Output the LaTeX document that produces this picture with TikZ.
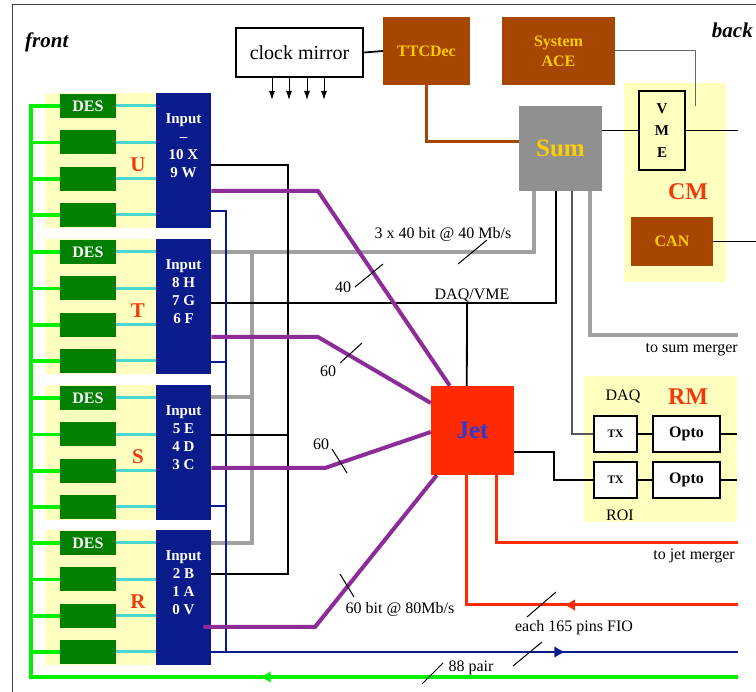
\documentclass[tikz,border=0pt]{standalone}
\usepackage{fontspec}
\setmainfont{Liberation Serif}
\usepackage{xcolor}
\usepackage{tikz}
\usetikzlibrary{arrows.meta,calc,positioning,decorations.markings}
\definecolor{boxbrown}{HTML}{A64600}
\definecolor{goldtext}{HTML}{FFCC00}
\definecolor{paleyellow}{HTML}{FFFFC0}
\definecolor{desgreen}{HTML}{007F00}
\definecolor{busgreen}{HTML}{00F000}
\definecolor{linkcyan}{HTML}{48D8D0}
\definecolor{inputblue}{HTML}{0A1C8C}
\definecolor{linkpurple}{HTML}{8C2C98}
\definecolor{sumgray}{HTML}{909090}
\definecolor{wiregray}{HTML}{A0A0A0}
\definecolor{jetred}{HTML}{FF2A00}
\definecolor{letterred}{HTML}{F03A10}
\definecolor{jetblue}{HTML}{2A3AD8}

\begin{document}
\begin{tikzpicture}[x=1pt,y=-1pt,>=Latex,
  txt/.style={inner sep=0pt,font=\fontsize{16}{19}\selectfont},
  brownbox/.style={fill=boxbrown,text=goldtext,inner sep=0pt,align=center,font=\bfseries\fontsize{16}{20}\selectfont},
  linebox/.style={draw=black,line width=2.5pt,fill=white,inner sep=0pt,font=\bfseries\fontsize{16}{19}\selectfont},
  inbox/.style={fill=inputblue,minimum width=55pt,minimum height=135pt,inner sep=0pt},
  desbox/.style={fill=desgreen,text=white,minimum width=56pt,minimum height=24pt,inner sep=0pt,font=\bfseries\fontsize{16}{19}\selectfont},
  bigred/.style={text=letterred,inner sep=0pt,font=\bfseries\fontsize{24}{28}\selectfont},
  thinwire/.style={line width=1.8pt},
  graywire/.style={wiregray,line width=3.5pt},
  bluewire/.style={inputblue,line width=2.5pt},
  purplewire/.style={linkpurple,line width=4pt},
  redwire/.style={jetred,line width=3pt},
  greenwire/.style={busgreen,line width=3.5pt},
  cyanwire/.style={linkcyan,line width=3pt},
  slash/.style={line width=1pt},
  midarrow/.style={postaction={decorate,decoration={markings,mark=at position #1 with {\arrow{Latex[length=11pt,width=12pt]}}}}}
]
\useasboundingbox (0,0) rectangle (756,692);
\draw[black!75,line width=1pt] (756,5) -- (12,5) -- (12,692);
\node[txt,anchor=west,font=\bfseries\itshape\fontsize{21}{24}\selectfont] (front) at (25,42) {front};
\node[txt,anchor=east,font=\bfseries\itshape\fontsize{21}{24}\selectfont] (back) at (753,30) {back};

\foreach \g/\gy/\itxt in {U/93/{Input\\–\\10 X\\9 W},T/239/{Input\\8 H\\7 G\\6 F},S/385/{Input\\5 E\\4 D\\3 C},R/530/{Input\\2 B\\1 A\\0 V}}{
  \fill[paleyellow] (45,\gy) rectangle (156,\gy+135);
  \node[inbox,anchor=north west] (in\g) at (156,\gy) {};
  \node[text=white,align=center,anchor=north,inner sep=0pt,font=\bfseries\fontsize{15}{18}\selectfont] (txt\g) at (183.5,\gy+20) {\itxt};
  \node[bigred,font=\bfseries\fontsize{21}{24}\selectfont] (lt\g) at (138,\gy+72) {\g};
  \foreach \k/\dy/\lab in {1/13/DES,2/49.5/,3/86/,4/122/}{
    \node[desbox] (des\g\k) at (88,\gy+\dy) {\lab};
    \draw[cyanwire] (des\g\k.east) -- (in\g.west |- des\g\k);
    \draw[greenwire] (31,\gy+\dy) -- (des\g\k.west);
  }
}

\node[draw,line width=2.5pt,fill=white,minimum width=127pt,minimum height=49pt,inner sep=0pt,font=\fontsize{20}{24}\selectfont] (clk) at (299.5,52.5) {clock mirror};
\node[brownbox,minimum width=87pt,minimum height=68pt] (ttc) at (426.5,51) {TTCDec};
\node[brownbox,minimum width=113pt,minimum height=68pt] (ace) at (558.5,51) {System\\ACE};
\node[fill=sumgray,text=goldtext,minimum width=83pt,minimum height=85pt,inner sep=0pt,font=\bfseries\fontsize{25}{28}\selectfont] (sum) at (560.5,148.5) {Sum};

\fill[paleyellow] (624,83) rectangle (726,282);
\node[draw,line width=2.5pt,minimum width=46pt,minimum height=79pt,inner sep=0pt,align=center,font=\bfseries\fontsize{15}{22}\selectfont] (vme) at (662,130.5) {V\\M\\E};
\node[bigred] (cm) at (688,192) {CM};
\node[brownbox,minimum width=82pt,minimum height=49pt] (can) at (672,241.5) {CAN};

\fill[paleyellow] (584,376) rectangle (737,522);
\node[txt] (daq) at (623,397) {DAQ};
\node[bigred] (rm) at (688,397) {RM};
\node[txt] (roi) at (620,515) {ROI};
\node[linebox,minimum width=43pt,minimum height=36pt,font=\bfseries\fontsize{11.5}{13}\selectfont] (tx1) at (615.5,434) {TX};
\node[linebox,minimum width=43pt,minimum height=36pt,font=\bfseries\fontsize{11.5}{13}\selectfont,below=7.5pt of tx1] (tx2) {TX};
\node[linebox,minimum width=67pt,minimum height=36pt,right=13.5pt of tx1] (opto1) {Opto};
\node[linebox,minimum width=67pt,minimum height=36pt,right=13.5pt of tx2] (opto2) {Opto};

\node[fill=jetred,text=jetblue,minimum width=83pt,minimum height=89pt,inner sep=0pt,font=\bfseries\fontsize{25}{28}\selectfont] (jet) at (472.5,430.5) {Jet};

\coordinate (smend) at (738,335);
\coordinate (bend) at (738,652);
\coordinate (gend) at (738,677);
\coordinate (rend) at (738,605);
\coordinate (jend) at (738,543);

\draw[thinwire] (clk.east) -- (ttc.west);
\foreach \x in {272,289,307,324}
  \draw[-{Latex[length=9pt,width=6pt]},line width=1pt] (\x,0 |- clk.south) -- (\x,100);
\draw[boxbrown,line width=3pt] (ttc.south) |- (sum.west |- 0,142);
\draw[black!60,line width=1pt] (ace.east) -| (695,106);
\draw[thinwire] (sum.east |- vme.west) -- (vme.west);
\draw[thinwire] (vme.east) -- ++(52,0);
\draw[thinwire] (can.east) -- ++(43,0);

\draw[graywire] ($(sum.south west)+(15,0)$) |- (inT.east |- 0,252);
\draw[graywire] (inR.east |- 0,543) -| (252,252);
\draw[graywire] (inS.east |- 0,397) -- (252,397);
\draw[graywire] ($(sum.south west)+(71,0)$) |- (smend);
\node[txt,anchor=east] (tosum) at (738,350) {to sum merger};

\draw[thinwire] ($(sum.south west)+(37,0)$) |- (inT.east |- 0,303);
\draw[thinwire] (inU.east |- 0,165) -| (288,574) -- (inR.east |- 0,574);
\draw[thinwire] (inS.east |- 0,435) -- (288,435);
\draw[black!65,line width=1.5pt] ($(sum.south west)+(53,0)$) |- (tx1.west);
\draw[thinwire] ($(jet.north west)+(36,0)$) -- (467,303);
\node[txt,anchor=south] (daqvme) at (472,302) {DAQ/VME};

\draw[line width=1.2pt] (jet.east |- 0,452) -- (554,452) |- (tx2.west);
\draw[thinwire] (tx1.east) -- (opto1.west);
\draw[thinwire] (tx2.east) -- (opto2.west);
\draw[thinwire] (opto1.east) -- ++(16,0);
\draw[thinwire] (opto2.east) -- ++(16,0);

\draw[bluewire] (inU.east |- 0,211) -| (226,652);
\draw[bluewire] (inT.east |- 0,362) -- (226,362);
\draw[bluewire] (inS.east |- 0,506) -- (226,506);
\draw[bluewire,midarrow=0.672] (inR.east |- 0,652) -- (bend);

\draw[greenwire,midarrow=0.366] (gend) -- (31,677) |- (desU1.west);

\draw[redwire,midarrow=0.434] (rend) -| ($(jet.south west)+(36,0)$);
\draw[redwire] ($(jet.south west)+(66,0)$) |- (jend);
\node[txt,anchor=east] (tojet) at (735,556) {to jet merger};

\draw[purplewire] (inU.east |- 0,191) -- (318,191) -- ($(jet.north west)+(19,0)$);
\draw[purplewire] (inT.east |- 0,337) -- (318,337) -- (jet.west |- 0,403);
\draw[purplewire] (inS.east |- 0,468) -- (325,468) -- (jet.west |- 0,432);
\draw[purplewire] ($(inR.east |- 0,627)+(-8,0)$) -- (315,627) -- ($(jet.south west)+(6,0)$);

\node[txt] (rate40) at (443,234) {3 x 40 bit @ 40 Mb/s};
\draw[slash] (458,264) -- (487,240);
\node[txt] (n40) at (343,287) {40};
\draw[slash] (355,287) -- (383,264);
\node[txt] (n60a) at (328,371) {60};
\draw[slash] (340,363) -- (362,343);
\node[txt] (n60b) at (321,444) {60};
\draw[slash] (332,449) -- (347,473);
\node[txt] (rate80) at (400,609) {60 bit @ 80Mb/s};
\draw[slash] (340,574) -- (354,597);
\node[txt] (fio) at (574,628) {each 165 pins FIO};
\draw[slash] (527,617) -- (556,592);
\draw[slash] (513,666) -- (542,642);
\node[txt] (pair) at (471,668) {88 pair};
\draw[slash] (422,684) -- (443,663);
\end{tikzpicture}
\end{document}
